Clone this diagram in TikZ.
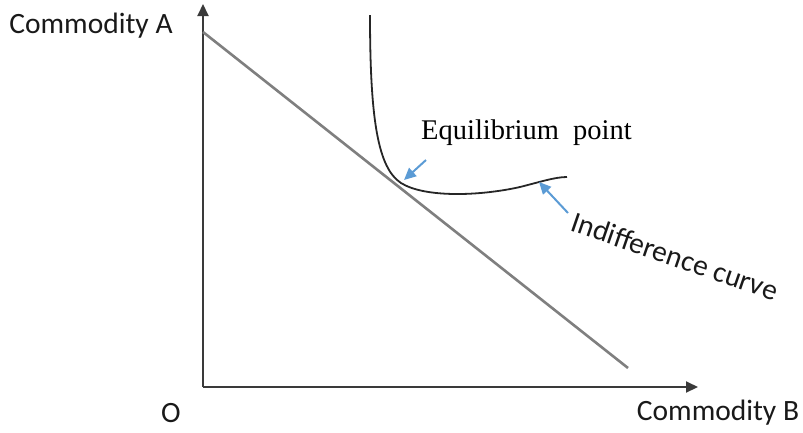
\documentclass[tikz,border=0pt]{standalone}
\usepackage{fontspec}
\setmainfont{Carlito}
\newfontfamily\serifA{Liberation Serif}
\usetikzlibrary{arrows.meta}
\definecolor{axisgray}{HTML}{3A3A3A}
\definecolor{budgetgray}{HTML}{7F7F7F}
\definecolor{callblue}{HTML}{5B9BD5}
\tikzset{
  axisline/.style={draw=axisgray, line width=2pt, -{Triangle[length=12pt,width=11pt]}},
  budgetline/.style={draw=budgetgray, line width=2.6pt},
  curveline/.style={draw=black!85, line width=1.8pt},
  callout/.style={draw=callblue, line width=2pt, -{Triangle[length=12pt,width=11pt]}},
  lbl/.style={font=\fontsize{29.5}{32}\selectfont, text=black!90, inner sep=0pt},
  serlbl/.style={font=\serifA\fontsize{28.5}{31}\selectfont, text=black, inner sep=0pt}
}
\begin{document}
\begin{tikzpicture}[x=1pt,y=-1pt]
\useasboundingbox (0,0) rectangle (803,432);
\coordinate (O) at (203,387);
\coordinate (ytip) at (203,4);
\coordinate (xtip) at (698,387);
\coordinate (b1) at (203,32);
\coordinate (b2) at (628,368);
\coordinate (c0) at (370,15);
\coordinate (eq) at (401,183);
\coordinate (c1) at (520,187);
\coordinate (c2) at (567,177);
\coordinate (ea) at (426,160);
\coordinate (ia) at (568,213);
\coordinate (ib) at (539,182);
\coordinate (eb) at (404,180);
% axes
\draw[axisline] (O) -- (ytip);
\draw[axisline] (O) -- (xtip);
% budget line
\draw[budgetline] (b1) -- (b2);
% indifference curve
\draw[curveline] (c0) .. controls (370,120) and (378,168) .. (eq)
  .. controls (425,198) and (480,196) .. (c1)
  .. controls (540,182) and (555,177) .. (c2);
% callouts
\draw[callout] (ea) -- (eb);
\draw[callout] (ia) -- (ib);
% labels
\node[lbl] (lA) at (91,26) {Commodity A};
\node[lbl] (lO) at (171,413) {O};
\node[lbl] (lB) at (718,413) {Commodity B};
\node[serlbl, anchor=west] (lEq) at (421,133) {Equilibrium\ \ point};
\node[lbl, rotate=-19] (lInd) at (675,256) {Indifference curve};
\end{tikzpicture}
\end{document}
